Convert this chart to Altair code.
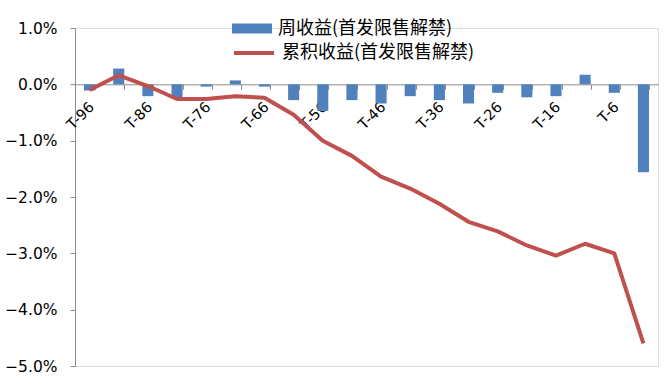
import altair as alt
import pandas as pd

categories = ["T-96", "T-91", "T-86", "T-81", "T-76", "T-71", "T-66", "T-61", "T-56", "T-51",
              "T-46", "T-41", "T-36", "T-31", "T-26", "T-21", "T-16", "T-11", "T-6", "T-1"]
label_cats = ["T-96", "T-86", "T-76", "T-66", "T-56", "T-46", "T-36", "T-26", "T-16", "T-6"]
weekly = [-0.11, 0.28, -0.21, -0.25, -0.04, 0.07, -0.04, -0.28, -0.47, -0.28,
          -0.34, -0.21, -0.28, -0.34, -0.15, -0.23, -0.21, 0.17, -0.15, -1.56]
cumulative = [-0.10, 0.16, -0.03, -0.26, -0.26, -0.21, -0.24, -0.54, -1.00, -1.27,
              -1.64, -1.85, -2.12, -2.44, -2.61, -2.86, -3.04, -2.83, -3.00, -4.60]
y_ticks = [-5, -4, -3, -2, -1, 0, 1]
bar_name = "周收益(首发限售解禁)"
line_name = "累积收益(首发限售解禁)"

df = pd.DataFrame({"cat": categories, "weekly": weekly, "cum": cumulative,
                   "s1": bar_name, "s2": line_name})
df_lab = pd.DataFrame({"cat": label_cats})

W, H = 583, 338
y0_from_bottom = H * (0 - (-5)) / 6.0
AX_FONT = "DejaVu Sans"

xaxis = alt.Axis(labels=False, tickBand="extent", title=None,
                 offset=-y0_from_bottom, tickSize=5, domainColor="#8c8c8c",
                 tickColor="#8c8c8c")
xscale = alt.Scale(domain=categories, paddingInner=0.62, paddingOuter=0.31)

def xenc():
    return alt.X("cat:N", sort=categories, title=None, scale=xscale, axis=xaxis)

yscale = alt.Scale(domain=[-5, 1], nice=False, zero=False)
yaxis = alt.Axis(values=y_ticks, labelExpr="format(datum.value, '.1f') + '%'",
                 grid=False, tickSize=5, domainColor="#8c8c8c", tickColor="#8c8c8c",
                 labelFont=AX_FONT, labelFontSize=15.5, labelColor="#000000", labelPadding=13)

LEG = dict(title=None, orient="none", labelFont="Noto Sans CJK SC", labelFontSize=18,
           labelColor="#000000", labelOffset=6, labelLimit=400)

xlabels = alt.Chart(df_lab).mark_text(
    angle=315, align="right", baseline="middle", dx=-13, dy=16.6,
    font=AX_FONT, fontSize=14.5, color="#000000",
).encode(
    x=xenc(),
    y=alt.datum(0, scale=yscale),
    text="cat:N",
)

bars = alt.Chart(df).mark_bar().encode(
    x=xenc(),
    y=alt.Y("weekly:Q", scale=yscale, axis=yaxis, title=None),
    color=alt.Color("s1:N", scale=alt.Scale(domain=[bar_name], range=["#4F81BD"]),
                    legend=alt.Legend(legendX=157, legendY=-19.5,
                                      symbolType="M-1,-0.25H1V0.25H-1Z", symbolSize=1600,
                                      symbolStrokeWidth=0, **LEG)),
)

line = alt.Chart(df).mark_line(strokeWidth=4, strokeJoin="round").encode(
    x=xenc(),
    y=alt.Y("cum:Q", scale=yscale, axis=yaxis, title=None),
    stroke=alt.Stroke("s2:N", scale=alt.Scale(domain=[line_name], range=["#C0504D"]),
                      legend=alt.Legend(legendX=157, legendY=3,
                                        symbolType="stroke", symbolSize=1600,
                                        symbolStrokeWidth=4, **LEG)),
)

chart = alt.layer(xlabels, bars, line).properties(
    width=W, height=H,
    autosize=alt.AutoSizeParams(type="none"),
    padding={"left": 75, "top": 28, "right": 8, "bottom": 18},
).configure_view(stroke=None).configure(background="white")

chart.save("out.html", embed_options={"renderer": "svg", "actions": False})
